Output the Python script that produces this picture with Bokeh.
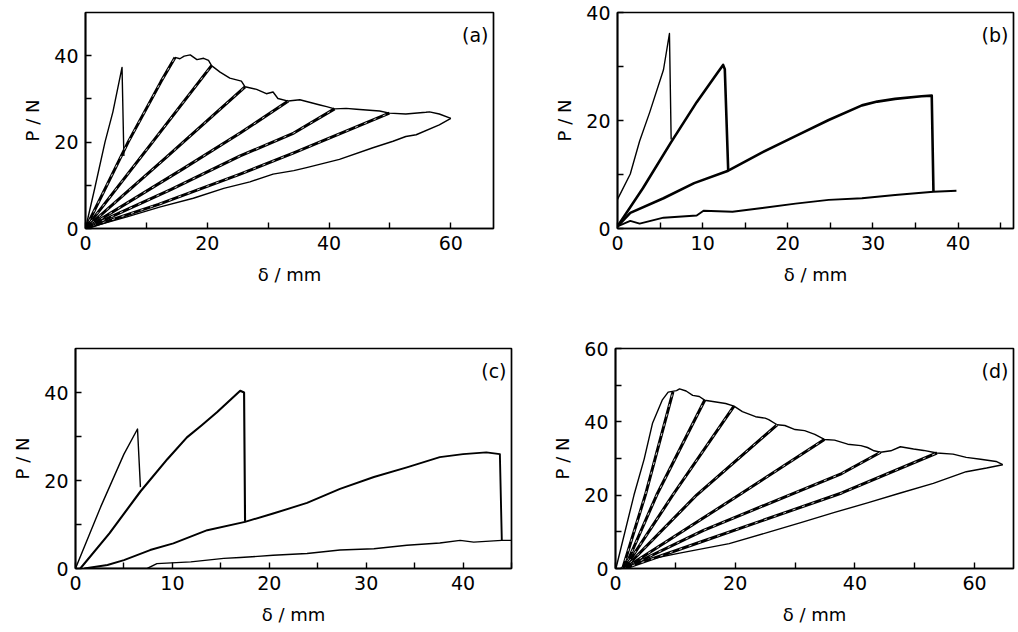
from bokeh.plotting import figure
from bokeh.layouts import column, row
from bokeh.models import FixedTicker, Label, Range1d
from bokeh.embed import file_html
from bokeh.resources import INLINE

# ---------------- panel (a) ----------------
A_X_TICKS = [0, 20, 40, 60]
A_X_MINOR = [10, 30, 50]
A_Y_TICKS = [0, 20, 40]
A_Y_MINOR = [10, 30]

A_FIRST_X = [0, 1.5, 3.2, 4.5, 6.0, 6.3]
A_FIRST_Y = [0, 9.2, 20.0, 27.0, 37.3, 16.8]

A_C1_X = [0, 3.5, 7.0, 9.7, 12.4, 14.7]
A_C1_Y = [0, 10.0, 20.0, 27.0, 34.0, 39.6]
A_C2_X = [0, 11.0, 20.7]
A_C2_Y = [0, 20.0, 37.7]
A_C3_X = [0, 13.3, 26.2]
A_C3_Y = [0, 16.5, 32.8]
A_C4_X = [0, 16.0, 25.4, 33.3]
A_C4_Y = [0, 13.8, 22.1, 29.5]
A_C5_X = [0, 14.0, 25.4, 34.2, 40.9]
A_C5_Y = [0, 9.0, 16.8, 22.1, 27.7]
A_C6_X = [0, 12.0, 25.4, 34.2, 49.9]
A_C6_Y = [0, 5.6, 12.6, 17.5, 26.7]

A_ENV_X = [14.7, 15.5, 16.2, 17.2, 18.3, 19.4, 20.2, 20.7, 22.1, 23.7, 25.6, 26.2,
           28.1, 29.7, 30.8, 31.6, 33.3, 35.2, 37.4, 38.5, 39.6, 40.9, 42.8, 44.5,
           47.2, 48.3, 49.9, 52.6, 55.9, 56.5, 58.1, 60.0]
A_ENV_Y = [39.6, 39.3, 39.9, 40.2, 39.1, 39.4, 38.9, 37.7, 36.2, 34.8, 34.1, 32.8,
           32.2, 31.2, 31.6, 30.1, 29.5, 29.8, 29.0, 28.6, 28.2, 27.7, 27.8, 27.6,
           27.3, 27.2, 26.7, 26.5, 26.9, 27.0, 26.5, 25.5]

A_LAST_X = [60.0, 58.1, 54.3, 52.6, 50.5, 47.2, 41.7, 36.3, 34.2, 30.8, 27.0, 22.7,
            17.7, 12.3, 6.8, 0]
A_LAST_Y = [25.5, 24.0, 21.7, 21.3, 20.2, 18.7, 16.0, 14.1, 13.4, 12.6, 10.8, 9.3,
            7.0, 5.0, 2.7, 0]

# ---------------- panel (b) ----------------
B_X_TICKS = [0, 10, 20, 30, 40]
B_X_MINOR = [5, 15, 25, 35, 45]
B_Y_TICKS = [0, 20, 40]
B_Y_MINOR = [10, 30]

B1_X = [0, 1.5, 2.6, 3.8, 5.4, 6.1, 6.3]
B1_Y = [5.4, 10.1, 16.2, 21.6, 29.4, 36.1, 16.5]
B2_X = [0, 3.0, 6.3, 9.3, 11.6, 12.4, 12.6, 13.0]
B2_Y = [0.4, 7.5, 16.0, 23.4, 28.5, 30.3, 29.5, 10.7]
B3_X = [0, 1.5, 5.4, 9.0, 13.0, 17.0, 20.9, 24.8, 28.7, 30.5, 32.6, 35.7, 36.9, 37.1]
B3_Y = [0.4, 2.9, 5.6, 8.4, 10.7, 14.1, 17.1, 20.1, 22.8, 23.5, 24.0, 24.5, 24.6, 6.8]
B4_X = [0, 1.5, 2.6, 5.4, 9.3, 10.1, 13.5, 17.0, 20.9, 24.8, 28.7, 32.6, 37.1, 39.8]
B4_Y = [0.4, 1.4, 0.9, 2.0, 2.4, 3.3, 3.1, 3.8, 4.6, 5.3, 5.6, 6.2, 6.8, 7.0]

# ---------------- panel (c) ----------------
C_X_TICKS = [0, 10, 20, 30, 40]
C_X_MINOR = [5, 15, 25, 35, 45]
C_Y_TICKS = [0, 20, 40]
C_Y_MINOR = [10, 30]

C1_X = [0, 2.6, 5.0, 6.4, 6.7]
C1_Y = [0, 14.0, 26.0, 31.7, 18.5]
C2_X = [0.5, 3.5, 6.7, 9.5, 11.5, 13.0, 14.6, 17.0, 17.4, 17.5]
C2_Y = [0, 8.0, 17.5, 24.9, 29.8, 32.5, 35.5, 40.4, 40.0, 10.6]
C3_X = [0.9, 3.3, 5.0, 7.7, 10.1, 13.6, 17.5, 20.4, 23.9, 27.3, 30.8, 34.2, 37.6,
        40.0, 42.4, 43.8, 44.0]
C3_Y = [0, 0.8, 1.9, 4.2, 5.7, 8.7, 10.6, 12.5, 14.9, 18.1, 20.8, 23.0, 25.3,
        26.0, 26.4, 26.0, 6.4]
C4_X = [1.5, 7.4, 8.4, 11.9, 15.3, 17.0, 20.4, 23.9, 27.3, 30.8, 34.2, 37.6, 39.7,
        41.1, 44.0, 45.0]
C4_Y = [0, 0, 1.1, 1.5, 2.3, 2.5, 3.0, 3.4, 4.2, 4.5, 5.3, 5.8, 6.4, 6.0, 6.4, 6.4]

# ---------------- panel (d) ----------------
D_X_TICKS = [0, 20, 40, 60]
D_X_MINOR = [10, 30, 50]
D_Y_TICKS = [0, 20, 40, 60]
D_Y_MINOR = [10, 30, 50]

D_ENV_X = [0, 0.1, 3.1, 4.8, 6.2, 7.8, 8.8, 10.2, 10.7, 11.8, 12.9, 14.0, 14.9,
           16.8, 18.4, 19.8, 21.2, 23.4, 25.0, 25.6, 27.0, 28.3, 30.0, 31.6, 33.3,
           34.9, 36.6, 38.8, 41.0, 42.1, 43.2, 44.3, 46.0, 47.6, 49.8, 51.5, 53.7,
           56.4, 58.6, 61.0, 63.6, 64.7]
D_ENV_Y = [0, 0.2, 20.1, 29.9, 39.7, 45.9, 48.1, 48.5, 49.0, 48.4, 47.2, 46.9, 45.9,
           45.4, 45.0, 44.3, 42.8, 41.4, 41.0, 40.6, 39.2, 39.0, 37.9, 37.6, 36.6,
           35.2, 35.0, 33.9, 33.5, 33.0, 32.1, 31.7, 32.1, 33.2, 32.6, 32.2, 31.5,
           31.2, 30.3, 29.8, 29.2, 28.3]
D_LAST_X = [64.7, 62.0, 58.6, 53.1, 47.6, 42.1, 36.6, 31.1, 25.6, 19.0, 10.7, 5.2,
            1.9, 0.8]
D_LAST_Y = [28.3, 27.4, 26.4, 23.2, 20.6, 17.9, 15.3, 12.6, 9.9, 6.8, 4.2, 2.4,
            0.6, 0]

D_C1_X = [1.2, 5.0, 9.6]
D_C1_Y = [0, 20.1, 48.2]
D_C2_X = [1.5, 6.9, 14.9]
D_C2_Y = [0, 20.1, 45.9]
D_C3_X = [1.5, 9.6, 19.8]
D_C3_Y = [0, 20.1, 44.3]
D_C4_X = [1.5, 13.6, 27.0]
D_C4_Y = [0, 20.1, 39.2]
D_C5_X = [1.5, 20.7, 34.9]
D_C5_Y = [0, 20.1, 35.2]
D_C6_X = [1.5, 14.7, 37.8, 44.3]
D_C6_Y = [0, 10.4, 25.9, 31.7]
D_C7_X = [1.5, 14.7, 37.8, 53.7]
D_C7_Y = [0, 7.5, 20.6, 31.5]

FONT = "DejaVu Sans"
THIN = 1.4
THICK = 3.0


def make_panel(width, height, xmax, ymax, xt, xm, yt, ym, borders, tag):
    left, right, top, bottom = borders
    p = figure(width=width, height=height,
               x_range=Range1d(0, xmax), y_range=Range1d(0, ymax),
               output_backend="svg", toolbar_location=None,
               min_border_left=left, min_border_right=right,
               min_border_top=top, min_border_bottom=bottom)
    p.xgrid.visible = False
    p.ygrid.visible = False
    p.background_fill_color = "white"
    p.border_fill_color = "white"
    p.outline_line_color = "black"
    p.outline_line_width = 1.7
    p.outline_line_alpha = 1.0
    p.xaxis.ticker = FixedTicker(ticks=xt, minor_ticks=xm)
    p.yaxis.ticker = FixedTicker(ticks=yt, minor_ticks=ym)
    for ax in (p.xaxis[0], p.yaxis[0]):
        ax.axis_line_color = "black"
        ax.axis_line_width = 1.7
        ax.major_tick_line_color = "black"
        ax.minor_tick_line_color = "black"
        ax.major_tick_line_width = 1.4
        ax.minor_tick_line_width = 1.4
        ax.major_tick_in = 6
        ax.major_tick_out = 0
        ax.minor_tick_in = 6
        ax.minor_tick_out = 0
        ax.major_label_text_font = FONT
        ax.major_label_text_font_size = "19px"
        ax.major_label_text_color = "black"
        ax.axis_label_text_font = FONT
        ax.axis_label_text_font_size = "18px"
        ax.axis_label_text_font_style = "normal"
        ax.axis_label_text_color = "black"
    p.xaxis.axis_label = "δ / mm"
    p.yaxis.axis_label = "P / N"
    p.xaxis.major_label_standoff = 7
    p.xaxis.axis_label_standoff = 11
    p.yaxis.major_label_standoff = 7
    p.yaxis.axis_label_standoff = 8
    lab = Label(x=xmax, y=ymax, text=tag, text_align="right", text_baseline="top",
                x_offset=-5, y_offset=-11, text_font=FONT, text_font_size="19px",
                text_color="black")
    p.add_layout(lab)
    return p


def curve(p, xs, ys, w):
    p.line(xs, ys, line_color="black", line_width=w, line_join="round")


def double_curve(p, xs, ys):
    # unloading/reloading pair: thick trace with the small white gaps seen in the scan
    p.line(xs, ys, line_color="black", line_width=THICK, line_join="round")
    p.line(xs, ys, line_color="white", line_width=0.8, line_dash="3 7",
           line_dash_offset=2)


# panel (a)
pa = make_panel(535, 300, 67, 50, A_X_TICKS, A_X_MINOR, A_Y_TICKS, A_Y_MINOR,
                (85, 42, 10, 72), "(a)")
curve(pa, A_FIRST_X, A_FIRST_Y, THIN)
for xs, ys in [(A_C1_X, A_C1_Y), (A_C2_X, A_C2_Y), (A_C3_X, A_C3_Y),
               (A_C4_X, A_C4_Y), (A_C5_X, A_C5_Y), (A_C6_X, A_C6_Y)]:
    double_curve(pa, xs, ys)
curve(pa, A_ENV_X, A_ENV_Y, THIN)
curve(pa, A_LAST_X, A_LAST_Y, THIN)

# panel (b)
pb = make_panel(480, 300, 46.5, 40, B_X_TICKS, B_X_MINOR, B_Y_TICKS, B_Y_MINOR,
                (82, 2, 12, 71), "(b)")
curve(pb, B1_X, B1_Y, THIN)
curve(pb, B2_X, B2_Y, 2.6)
curve(pb, B3_X, B3_Y, 2.6)
curve(pb, B4_X, B4_Y, 1.9)

# panel (c)
pc = make_panel(535, 330, 45, 50, C_X_TICKS, C_X_MINOR, C_Y_TICKS, C_Y_MINOR,
                (75, 24, 48, 62), "(c)")
curve(pc, C1_X, C1_Y, THIN)
curve(pc, C2_X, C2_Y, 2.1)
curve(pc, C3_X, C3_Y, 1.9)
curve(pc, C4_X, C4_Y, THIN)

# panel (d)
pd = make_panel(480, 330, 66.5, 60, D_X_TICKS, D_X_MINOR, D_Y_TICKS, D_Y_MINOR,
                (80, 2, 46, 58), "(d)")
curve(pd, D_ENV_X, D_ENV_Y, THIN)
curve(pd, D_LAST_X, D_LAST_Y, THIN)
for xs, ys in [(D_C1_X, D_C1_Y), (D_C2_X, D_C2_Y), (D_C3_X, D_C3_Y),
               (D_C4_X, D_C4_Y), (D_C5_X, D_C5_Y), (D_C6_X, D_C6_Y),
               (D_C7_X, D_C7_Y)]:
    double_curve(pd, xs, ys)

layout = column(row(pa, pb), row(pc, pd))
open("out.html", "w").write(file_html(layout, INLINE))
